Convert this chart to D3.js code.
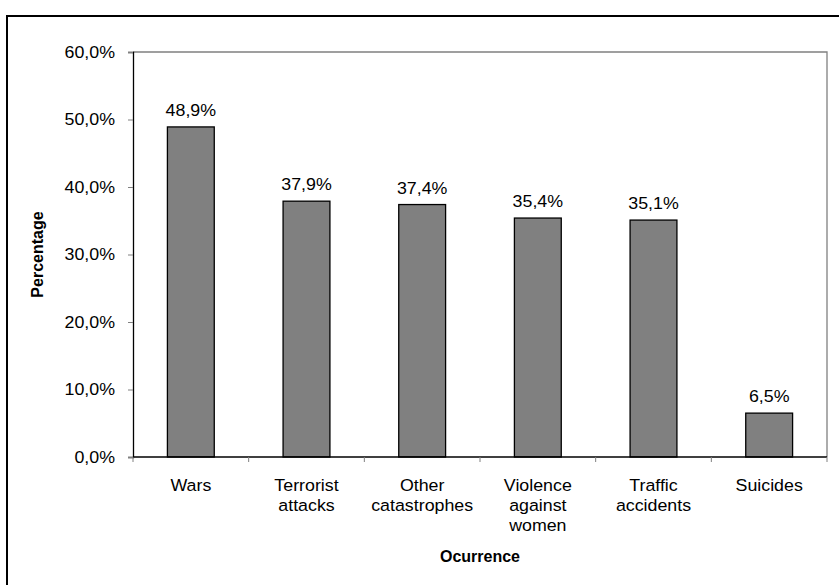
<!DOCTYPE html>
<html>
<head>
<meta charset="utf-8">
<script src="https://cdn.jsdelivr.net/npm/d3@7"></script>
<style>
  html, body { margin: 0; padding: 0; background: #fff; }
  svg { display: block; font-family: "Liberation Sans", Arial, sans-serif; }
</style>
</head>
<body>
<svg id="chart" width="839" height="585"></svg>
<script>
// Share of respondents per type of occurrence
const categories = [
  ["Wars"],
  ["Terrorist", "attacks"],
  ["Other", "catastrophes"],
  ["Violence", "against", "women"],
  ["Traffic", "accidents"],
  ["Suicides"]
];
const values = [48.9, 37.9, 37.4, 35.4, 35.1, 6.5];
const yTicks = [0, 10, 20, 30, 40, 50, 60];

const svg = d3.select("#chart");
const W = 839, H = 585;
const plot = { left: 133, right: 827, top: 52, bottom: 457 };
const FS = 16.5;     // label font size
const SX = 1.08;     // slightly wide lettering

const fmt = v => d3.format(".1f")(v).replace(".", ",") + "%";

// Outer frame (runs off the right and bottom edges)
svg.append("rect")
  .attr("x", 7).attr("y", 16)
  .attr("width", W + 10).attr("height", H + 10)
  .attr("fill", "none").attr("stroke", "#000").attr("stroke-width", 2);

const x = d3.scaleBand()
  .domain(d3.range(categories.length))
  .range([plot.left, plot.right])
  .paddingInner(0).paddingOuter(0);

const y = d3.scaleLinear().domain([0, 60]).range([plot.bottom, plot.top]);

// Plot-area frame: top and right in grey
svg.append("path")
  .attr("d", `M${plot.left},${plot.top}H${plot.right}V${plot.bottom}`)
  .attr("fill", "none").attr("stroke", "#808080").attr("stroke-width", 1.3);

// Bars
const barW = x.bandwidth() * 0.405;
svg.append("g").selectAll("rect")
  .data(values)
  .join("rect")
  .attr("x", (d, i) => x(i) + (x.bandwidth() - barW) / 2)
  .attr("y", d => y(d))
  .attr("width", barW)
  .attr("height", d => y(0) - y(d))
  .attr("fill", "#808080")
  .attr("stroke", "#000")
  .attr("stroke-width", 1.3);

// Value labels
svg.append("g").selectAll("text")
  .data(values)
  .join("text")
  .attr("transform", (d, i) =>
    `translate(${x(i) + x.bandwidth() / 2},${y(d) - 11}) scale(${SX},1)`)
  .attr("text-anchor", "middle")
  .attr("font-size", FS)
  .attr("fill", "#000")
  .text(d => fmt(d));

// Y axis
const yAxis = d3.axisLeft(y).tickValues(yTicks).tickSize(5).tickPadding(14)
  .tickFormat(d => fmt(d));
const gy = svg.append("g").attr("transform", `translate(${plot.left},0)`).call(yAxis);
gy.select(".domain").attr("stroke", "#000").attr("stroke-width", 1.3);
gy.selectAll(".tick line").attr("stroke", "#808080");
gy.selectAll(".tick text")
  .attr("x", 0)
  .attr("transform", `translate(-18,0) scale(${SX},1)`)
  .attr("font-size", FS).attr("fill", "#000")
  .attr("font-family", "Liberation Sans, Arial, sans-serif");

// X axis: ticks at category boundaries
const boundaries = d3.range(categories.length + 1).map(i => plot.left + i * x.step());
const gx = svg.append("g");
gx.append("line")
  .attr("x1", plot.left).attr("x2", plot.right)
  .attr("y1", plot.bottom).attr("y2", plot.bottom)
  .attr("stroke", "#000").attr("stroke-width", 1.3);
gx.selectAll("line.tk")
  .data(boundaries)
  .join("line").attr("class", "tk")
  .attr("x1", d => d).attr("x2", d => d)
  .attr("y1", plot.bottom).attr("y2", plot.bottom + 5)
  .attr("stroke", "#808080");

// Category labels
const cl = svg.append("g").selectAll("text")
  .data(categories)
  .join("text")
  .attr("transform", (d, i) =>
    `translate(${x(i) + x.bandwidth() / 2},491) scale(${SX},1)`)
  .attr("text-anchor", "middle")
  .attr("font-size", FS)
  .attr("fill", "#000");
cl.selectAll("tspan")
  .data(d => d)
  .join("tspan")
  .attr("x", 0)
  .attr("dy", (d, j) => j === 0 ? 0 : 20)
  .text(d => d);

// Axis titles
svg.append("text")
  .attr("transform", `translate(43,${(plot.top + plot.bottom) / 2}) rotate(-90)`)
  .attr("text-anchor", "middle")
  .attr("font-size", 16)
  .attr("font-weight", "bold")
  .text("Percentage");

svg.append("text")
  .attr("x", (plot.left + plot.right) / 2)
  .attr("y", 562)
  .attr("text-anchor", "middle")
  .attr("font-size", 16)
  .attr("font-weight", "bold")
  .text("Ocurrence");
</script>
</body>
</html>
